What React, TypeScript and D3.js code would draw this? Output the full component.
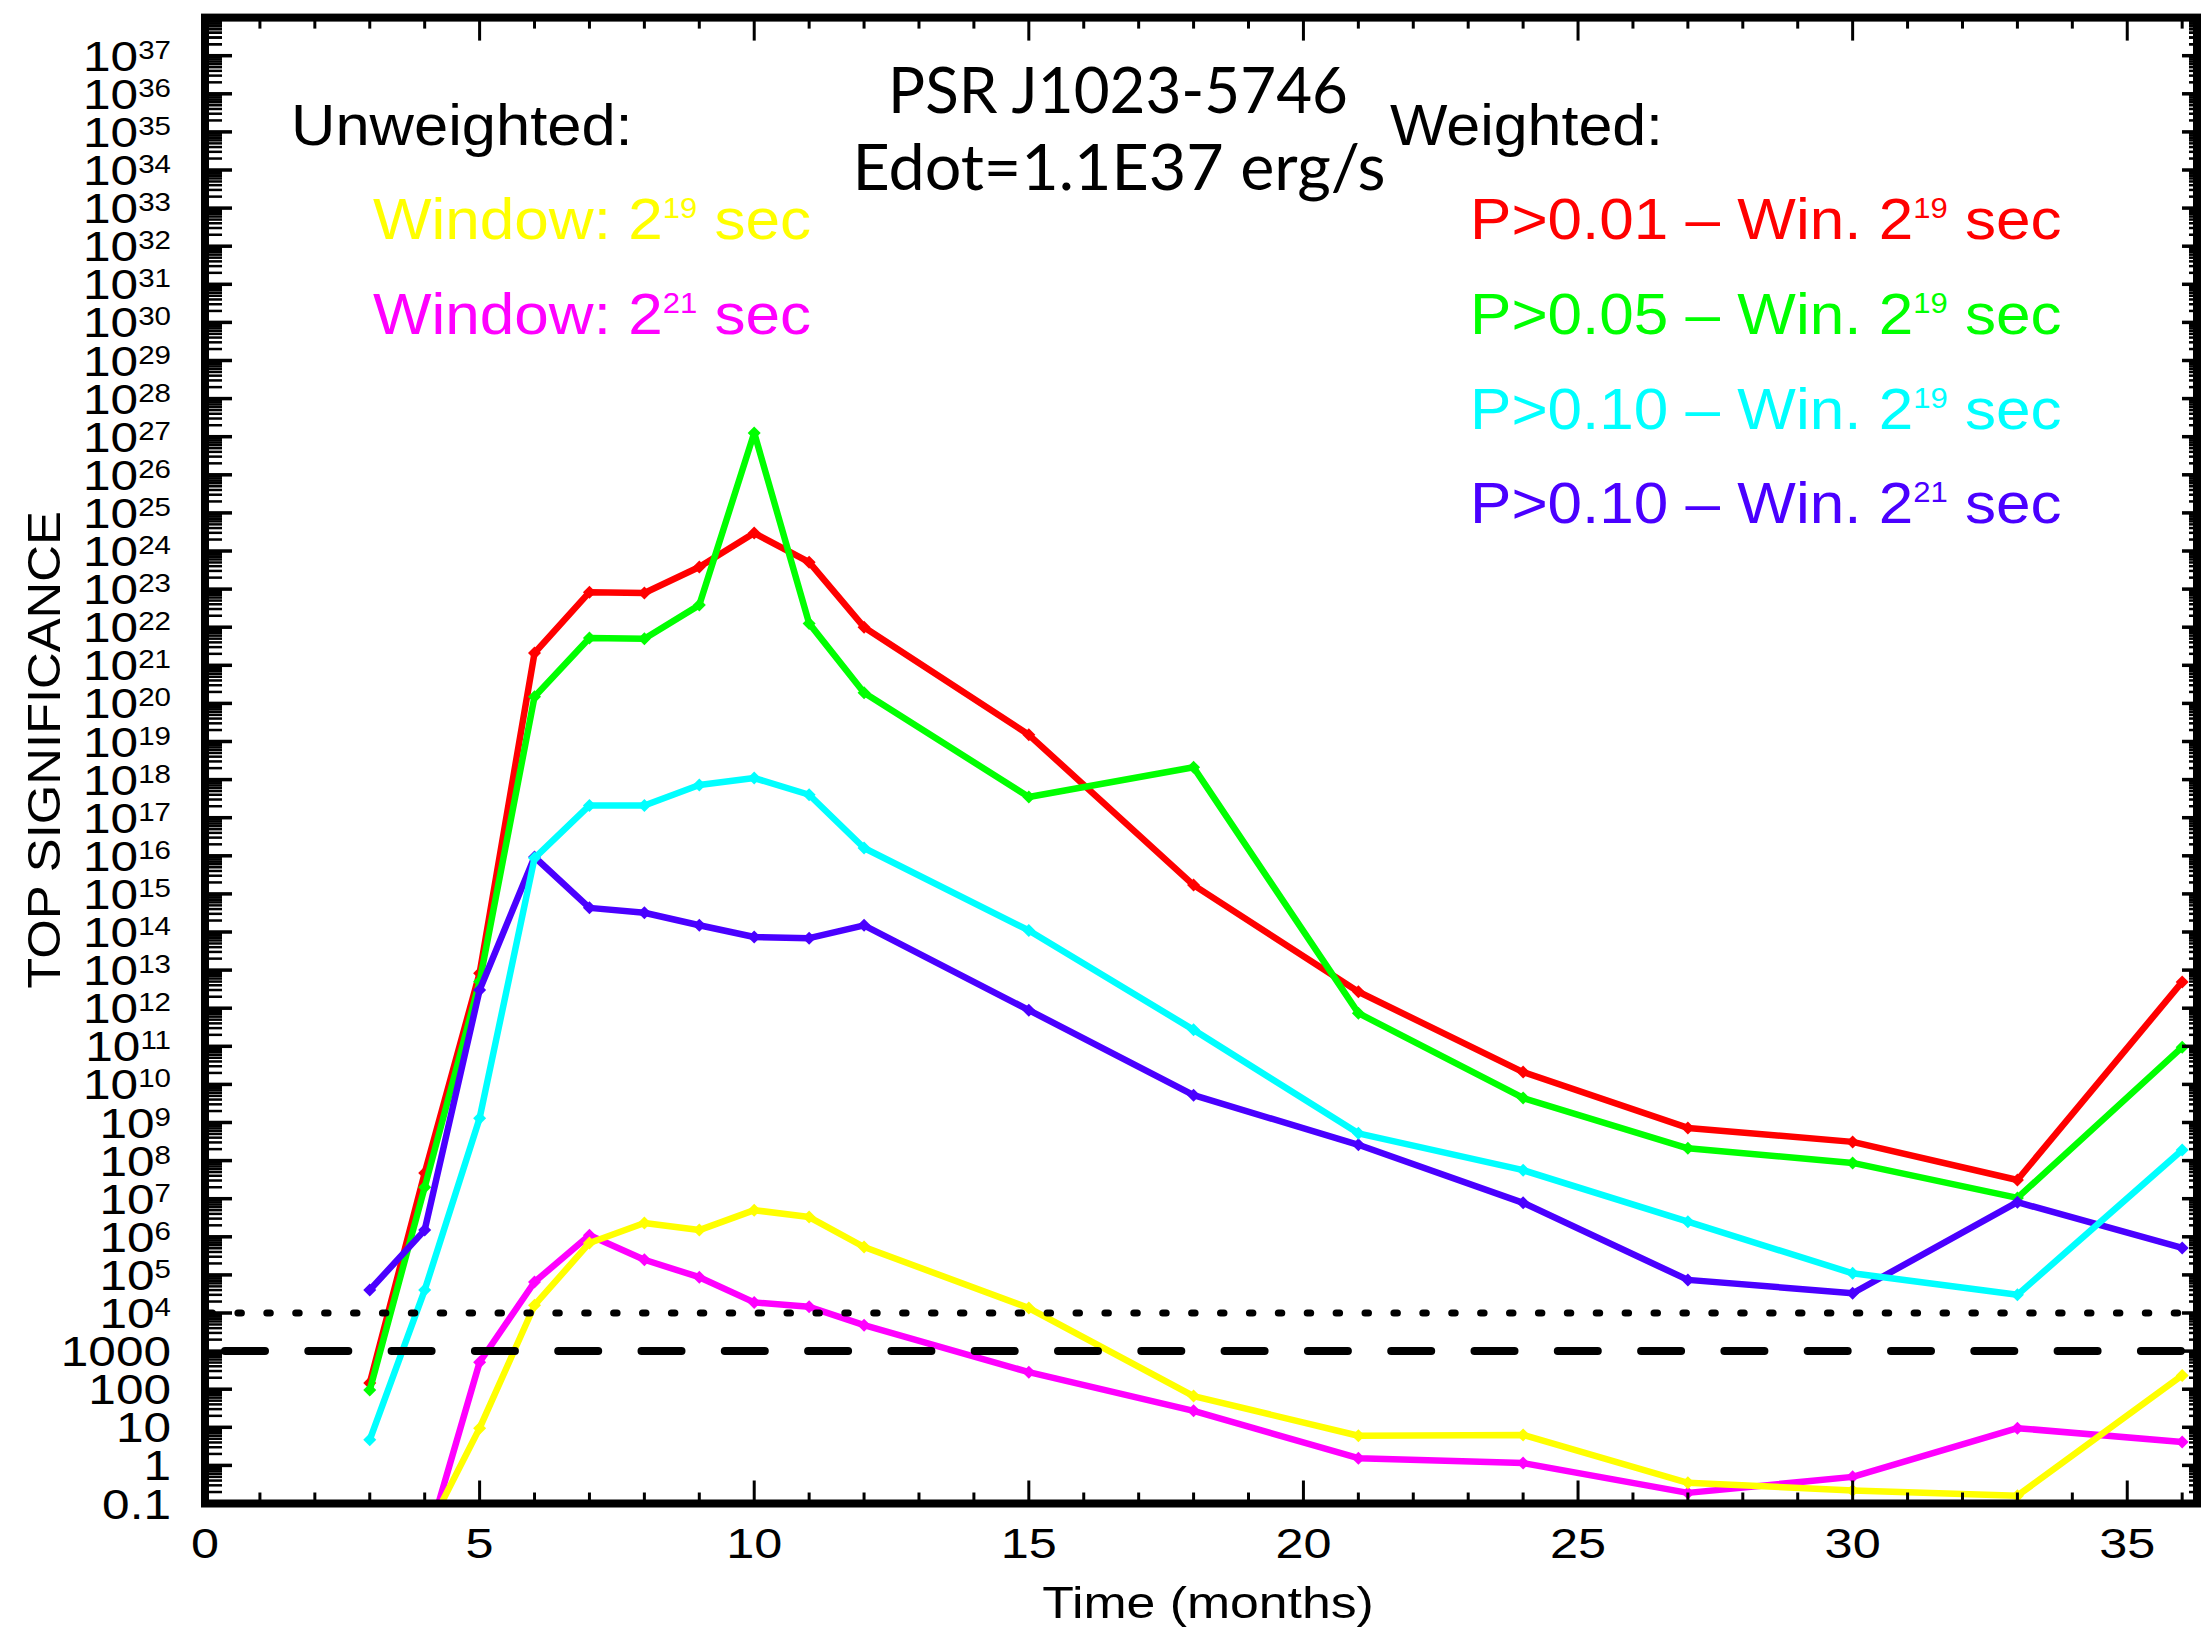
import React from 'react';
import * as d3 from 'd3';

// ---------------- data ----------------
const monthsWeighted = [3, 4, 5, 6, 7, 8, 9, 10, 11, 12, 15, 18, 21, 24, 27, 30, 33, 36];
const monthsUnweighted = [4, 5, 6, 7, 8, 9, 10, 11, 12, 15, 18, 21, 24, 27, 30, 33, 36];

const sigP001W19 = [1.45e2, 4.7e7, 8.3e12, 2.1e21, 8.3e22, 7.9e22, 3.8e23, 2.95e24, 5.1e23, 1.0e22, 1.5e19, 1.7e15, 2.7e12, 2.1e10, 7.2e8, 3.1e8, 3.1e7, 4.9e12];
const sigP005W19 = [9.5e1, 2.0e7, 5.0e12, 1.5e20, 5.2e21, 5.0e21, 3.8e22, 1.26e27, 1.26e22, 1.9e20, 3.5e17, 2.1e18, 7.4e11, 4.4e9, 2.1e8, 8.7e7, 1.05e7, 9.5e10];
const sigP010W19 = [4.7, 4.0e4, 1.3e9, 8.7e15, 2.1e17, 2.1e17, 7.2e17, 1.1e18, 4.0e17, 1.6e16, 1.1e14, 2.7e11, 5.2e8, 5.6e7, 2.5e6, 1.1e5, 3.0e4, 1.9e8];
const sigP010W21 = [4.0e4, 1.5e6, 3.0e12, 9.3e15, 4.3e14, 3.2e14, 1.5e14, 7.4e13, 6.9e13, 1.5e14, 8.9e11, 5.2e9, 2.6e8, 7.8e6, 7.4e4, 3.3e4, 8.1e6, 5.1e5];
const sigUnwW19 = [1.4e-2, 9.5, 1.6e4, 6.9e5, 2.3e6, 1.5e6, 5.0e6, 3.3e6, 5.4e5, 1.35e4, 66, 6.0, 6.3, 0.35, 0.22, 0.16, 2.3e2];
const sigUnwW21 = [5.8e-3, 5.1e2, 6.5e4, 1.1e6, 2.5e5, 8.7e4, 1.9e4, 1.45e4, 4.8e3, 2.8e2, 27, 1.55, 1.15, 0.19, 0.5, 9.5, 4.1];

const xMajorTicks = [0, 5, 10, 15, 20, 25, 30, 35];
const yExponents = d3.range(-1, 38); // 0.1 ... 1e37
const thresholdDotted = 1e4;
const thresholdDashed = 1e3;

const titleLines = ['PSR J1023-5746', 'Edot=1.1E37 erg/s'];

// ---------------- layout ----------------
const W = 2206;
const H = 1633;
const PL = 205;
const PR = 2197;
const PT = 17.6;
const PB = 1503.5;

const xScale = d3.scaleLinear().domain([0, 36.27]).range([PL, PR]);
const yScale = d3.scaleLog().domain([0.1, 1e38]).range([PB, PT]);

const SANS = '"Liberation Sans", Arial, Helvetica, sans-serif';

type Series = { name: string; color: string; xs: number[]; ys: number[] };

const series: Series[] = [
  { name: 'Window: 2^21 sec', color: '#ff00ff', xs: monthsUnweighted, ys: sigUnwW21 },
  { name: 'Window: 2^19 sec', color: '#ffff00', xs: monthsUnweighted, ys: sigUnwW19 },
  { name: 'P>0.01 – Win. 2^19 sec', color: '#ff0000', xs: monthsWeighted, ys: sigP001W19 },
  { name: 'P>0.05 – Win. 2^19 sec', color: '#00ff00', xs: monthsWeighted, ys: sigP005W19 },
  { name: 'P>0.10 – Win. 2^21 sec', color: '#4a00ff', xs: monthsWeighted, ys: sigP010W21 },
  { name: 'P>0.10 – Win. 2^19 sec', color: '#00ffff', xs: monthsWeighted, ys: sigP010W19 },
];

const lineGen = d3
  .line<[number, number]>()
  .x((d) => xScale(d[0]))
  .y((d) => yScale(d[1]));

function SText(props: {
  x: number;
  y: number;
  size: number;
  sx?: number;
  anchor?: 'start' | 'middle' | 'end';
  fill?: string;
  family?: string;
  rotate?: number;
  children: React.ReactNode;
}) {
  const { x, y, size, sx = 1, anchor = 'start', fill = '#000', family = SANS, rotate = 0, children } = props;
  return (
    <g transform={`translate(${x},${y}) rotate(${rotate}) scale(${sx},1)`}>
      <text x={0} y={0} fontSize={size} textAnchor={anchor} fill={fill} fontFamily={family}>
        {children}
      </text>
    </g>
  );
}

function LegendLabel(props: { x: number; y: number; color: string; main: string; exp: string; tail: string }) {
  const { x, y, color, main, exp, tail } = props;
  return (
    <SText x={x} y={y} size={58} sx={1.07} fill={color}>
      {main}
      <tspan dy={-21} fontSize={29}>
        {exp}
      </tspan>
      <tspan dy={21}>{tail}</tspan>
    </SText>
  );
}

export default function App() {
  const yMinor: number[] = [];
  yExponents.concat([37]).forEach((e) => {
    for (let m = 2; m <= 9; m++) {
      const v = m * Math.pow(10, e);
      if (v < 1e38) yMinor.push(v);
    }
  });
  const yMajor = yExponents.concat([38]).map((e) => Math.pow(10, e));
  const xMinor = d3.range(1, 37).filter((t) => t % 5 !== 0);

  const markerPath = (cx: number, cy: number, r: number) =>
    `M${cx},${cy - r}L${cx + r},${cy}L${cx},${cy + r}L${cx - r},${cy}Z`;

  const labelRight = 171;

  return (
    <svg
      width={W}
      height={H}
      viewBox={`0 0 ${W} ${H}`}
      style={{ position: 'absolute', left: 0, top: 0, background: '#fff' }}
    >
      <defs>
        <clipPath id="plotClip">
          <rect x={PL} y={PT} width={PR - PL} height={PB - PT} />
        </clipPath>
      </defs>
      <rect x={0} y={0} width={W} height={H} fill="#fff" />

      {/* data lines */}
      <g clipPath="url(#plotClip)">
        {series.map((s) => {
          const pts: [number, number][] = s.xs.map((x, i) => [x, s.ys[i]]);
          return (
            <g key={s.name}>
              <path
                d={lineGen(pts) || ''}
                fill="none"
                stroke={s.color}
                strokeWidth={6.5}
                strokeLinejoin="round"
                strokeLinecap="round"
              />
              {pts.map((p, i) => (
                <path key={i} d={markerPath(xScale(p[0]), yScale(p[1]), 6.5)} fill={s.color} />
              ))}
            </g>
          );
        })}
      </g>

      {/* threshold lines */}
      <line
        x1={PL}
        x2={PR}
        y1={yScale(thresholdDotted)}
        y2={yScale(thresholdDotted)}
        stroke="#000"
        strokeWidth={7}
        strokeDasharray="3.5 25.4"
        strokeDashoffset={-4}
        strokeLinecap="round"
      />
      <line
        x1={PL}
        x2={PR}
        y1={yScale(thresholdDashed)}
        y2={yScale(thresholdDashed)}
        stroke="#000"
        strokeWidth={8}
        strokeDasharray="40 43.3"
        strokeDashoffset={-20}
        strokeLinecap="round"
      />

      {/* axes frame */}
      <rect x={PL} y={PT} width={PR - PL} height={PB - PT} fill="none" stroke="#000" strokeWidth={8} />

      {/* y ticks left & right */}
      {yMinor.map((v, i) => (
        <g key={'ym' + i}>
          <line x1={PL} x2={PL + 17} y1={yScale(v)} y2={yScale(v)} stroke="#000" strokeWidth={2.5} />
          <line x1={PR} x2={PR - 8} y1={yScale(v)} y2={yScale(v)} stroke="#000" strokeWidth={2.5} />
        </g>
      ))}
      {yMajor.map((v, i) => (
        <g key={'yM' + i}>
          <line x1={PL} x2={PL + 27} y1={yScale(v)} y2={yScale(v)} stroke="#000" strokeWidth={3.5} />
          <line x1={PR} x2={PR - 15} y1={yScale(v)} y2={yScale(v)} stroke="#000" strokeWidth={3.5} />
        </g>
      ))}

      {/* x ticks bottom & top */}
      {xMinor.map((t) => (
        <g key={'xm' + t}>
          <line x1={xScale(t)} x2={xScale(t)} y1={PB} y2={PB - 11} stroke="#000" strokeWidth={3} />
          <line x1={xScale(t)} x2={xScale(t)} y1={PT} y2={PT + 11} stroke="#000" strokeWidth={3} />
        </g>
      ))}
      {xMajorTicks.map((t) => (
        <g key={'xM' + t}>
          <line x1={xScale(t)} x2={xScale(t)} y1={PB} y2={PB - 23} stroke="#000" strokeWidth={3} />
          <line x1={xScale(t)} x2={xScale(t)} y1={PT} y2={PT + 23} stroke="#000" strokeWidth={3} />
        </g>
      ))}

      {/* y tick labels */}
      {yExponents.map((e) => {
        const v = Math.pow(10, e);
        const yy = yScale(v) + 15;
        if (e <= 3) {
          const label = e === -1 ? '0.1' : String(Math.round(v));
          return (
            <SText key={'yl' + e} x={labelRight} y={yy} size={42} sx={1.18} anchor="end">
              {label}
            </SText>
          );
        }
        return (
          <SText key={'yl' + e} x={labelRight} y={yy} size={42} sx={1.18} anchor="end">
            10
            <tspan dy={-12} fontSize={25}>
              {String(e)}
            </tspan>
          </SText>
        );
      })}

      {/* x tick labels */}
      {xMajorTicks.map((t) => (
        <SText key={'xl' + t} x={xScale(t)} y={1558} size={42} sx={1.2} anchor="middle">
          {String(t)}
        </SText>
      ))}

      {/* axis titles */}
      <SText x={1208} y={1618} size={45} sx={1.15} anchor="middle">
        Time (months)
      </SText>
      <SText x={60} y={750} size={47} sx={1.08} anchor="middle" rotate={-90}>
        TOP SIGNIFICANCE
      </SText>

      {/* title */}
      <text
        x={1118}
        y={113}
        fontSize={64}
        textAnchor="middle"
        fontFamily='Lato, "Open Sans", sans-serif'
        textLength={460}
        lengthAdjust="spacingAndGlyphs"
      >
        {titleLines[0]}
      </text>
      <text
        x={1119}
        y={190}
        fontSize={64}
        textAnchor="middle"
        fontFamily='Lato, "Open Sans", sans-serif'
        textLength={533}
        lengthAdjust="spacingAndGlyphs"
      >
        {titleLines[1]}
      </text>

      {/* legends */}
      <SText x={291} y={145} size={58} sx={1.06}>
        Unweighted:
      </SText>
      <LegendLabel x={373} y={239} color="#ffff00" main="Window: 2" exp="19" tail=" sec" />
      <LegendLabel x={373} y={334} color="#ff00ff" main="Window: 2" exp="21" tail=" sec" />

      <SText x={1390} y={145} size={58} sx={1.05}>
        Weighted:
      </SText>
      <LegendLabel x={1470} y={239} color="#ff0000" main="P>0.01 – Win. 2" exp="19" tail=" sec" />
      <LegendLabel x={1470} y={334} color="#00ff00" main="P>0.05 – Win. 2" exp="19" tail=" sec" />
      <LegendLabel x={1470} y={429} color="#00ffff" main="P>0.10 – Win. 2" exp="19" tail=" sec" />
      <LegendLabel x={1470} y={523} color="#4a00ff" main="P>0.10 – Win. 2" exp="21" tail=" sec" />
    </svg>
  );
}
